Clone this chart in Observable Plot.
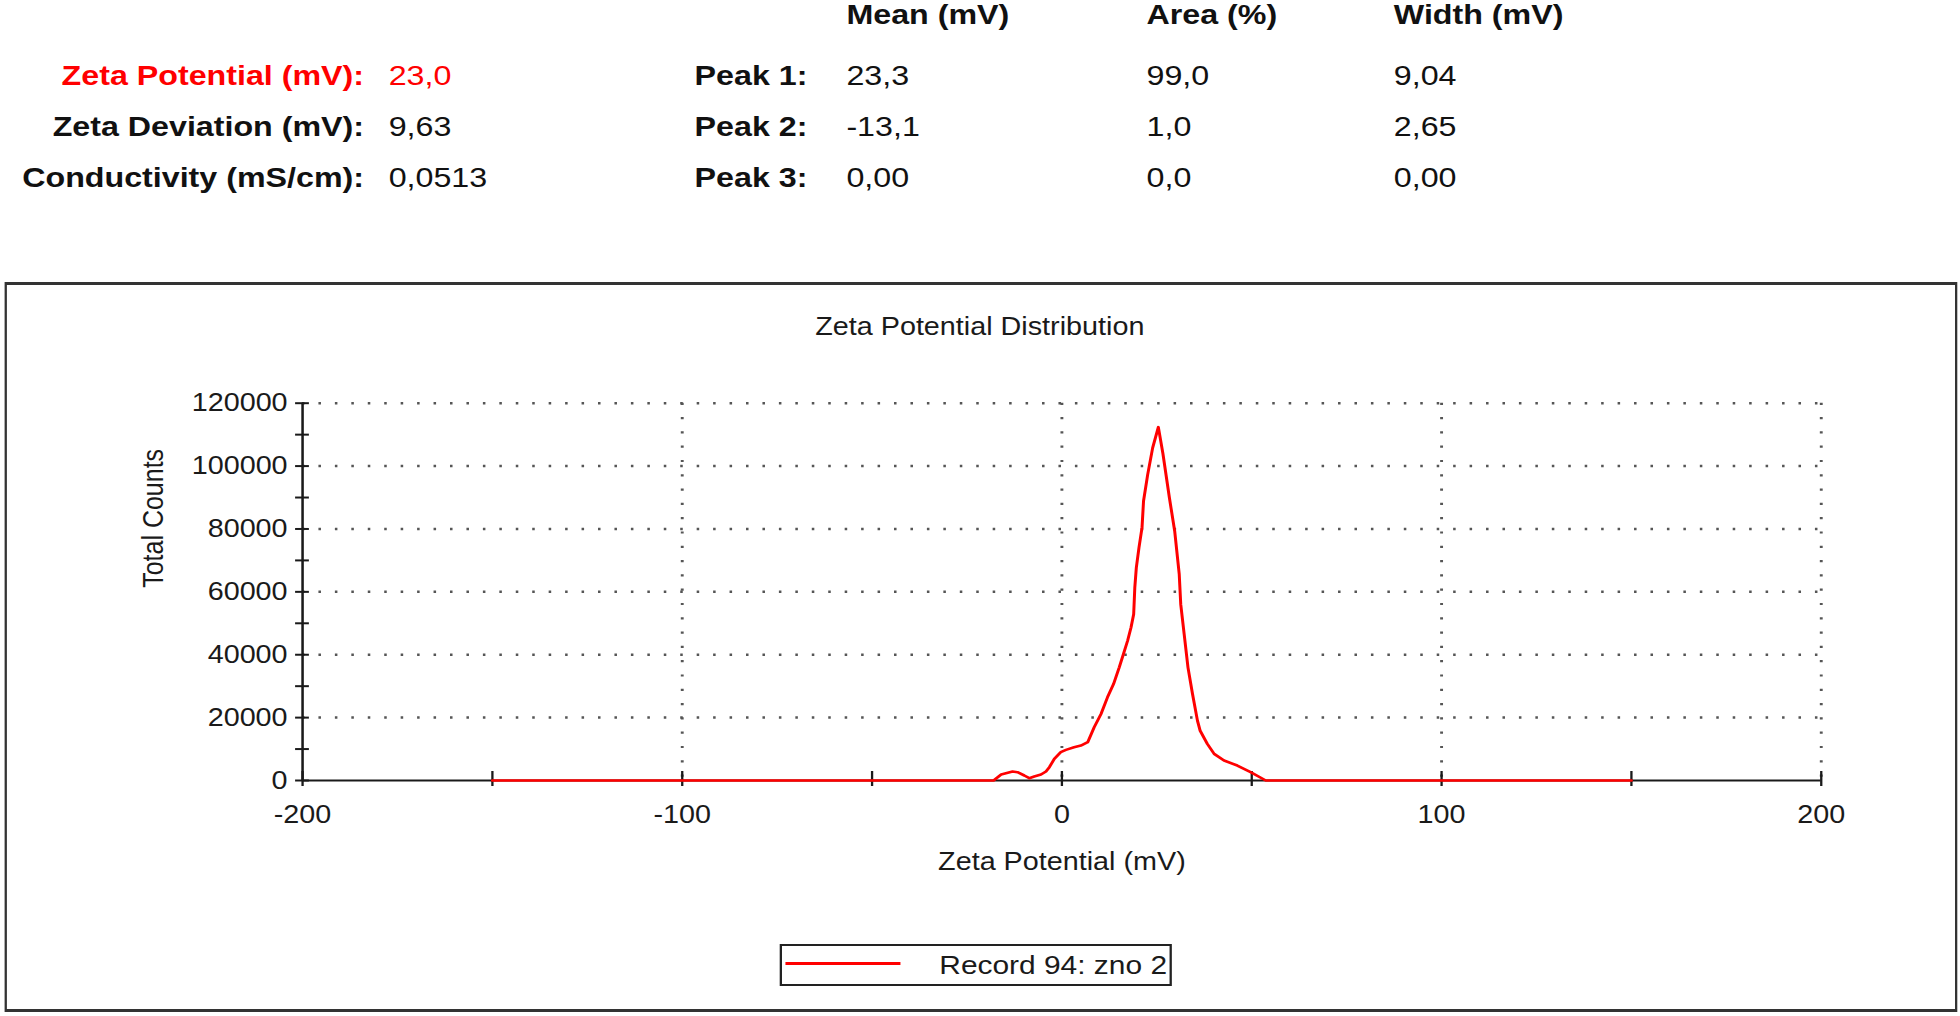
<!DOCTYPE html>
<html><head><meta charset="utf-8">
<script src="https://cdn.jsdelivr.net/npm/d3@7"></script>
<script src="https://cdn.jsdelivr.net/npm/@observablehq/plot@0.6"></script>
<style>
html,body{margin:0;padding:0;background:#fff;width:1960px;height:1016px;overflow:hidden;}
#page{position:absolute;left:0;top:0;width:1704.35px;height:1016px;transform:scaleX(1.15);transform-origin:0 0;font-family:"Liberation Sans",Arial,sans-serif;color:#111;}
.t{position:absolute;height:34px;line-height:34px;font-size:28px;white-space:nowrap;}
.b{font-weight:bold;}
.r{transform:translateX(-100%);}
.red{color:#f00;}
#frame{position:absolute;left:3.5px;top:282px;width:1694px;height:724px;border-style:solid;border-color:#333;border-width:3px 2px 3px 2px;}
#title{position:absolute;left:852px;top:309px;height:34px;line-height:34px;font-size:25px;transform:translateX(-50%);white-space:nowrap;color:#1a1a1a;}
#chart{position:absolute;left:0;top:284px;}
#legend{position:absolute;left:678.3px;top:944px;width:336.8px;height:38px;border:2px solid #222;}
#legend .sw{position:absolute;left:2.3px;top:16px;width:100px;height:2.5px;background:#f00;}
#legend .lt{position:absolute;right:2.3px;top:2px;height:34px;line-height:34px;font-size:26px;white-space:nowrap;color:#1a1a1a;}
</style>
</head>
<body>
<div id="page">
  <div id="table"></div>
  <div id="frame"></div>
  <div id="title"></div>
  <div id="chart"></div>
  <div id="legend"><div class="sw"></div><div class="lt"></div></div>
</div>
<script>
// ---- summary table ----
const summaryLabels = ["Zeta Potential (mV):", "Zeta Deviation (mV):", "Conductivity (mS/cm):"];
const summaryValues = ["23,0", "9,63", "0,0513"];
const peakHeaders = ["Mean (mV)", "Area (%)", "Width (mV)"];
const peakLabels = ["Peak 1:", "Peak 2:", "Peak 3:"];
const peakMeans = ["23,3", "-13,1", "0,00"];
const peakAreas = ["99,0", "1,0", "0,0"];
const peakWidths = ["9,04", "2,65", "0,00"];

// ---- chart data ----
const chartTitle = "Zeta Potential Distribution";
const xLabel = "Zeta Potential (mV)";
const yLabel = "Total Counts";
const legendLabel = "Record 94: zno 2";
const xTickLabels = [-200, -100, 0, 100, 200];
const xTickMarks = [-200, -150, -100, -50, 0, 50, 100, 150, 200];
const yTickLabels = [0, 20000, 40000, 60000, 80000, 100000, 120000];
const yTickMarks = [0, 10000, 20000, 30000, 40000, 50000, 60000, 70000, 80000, 90000, 100000, 110000, 120000];
const xGrid = [-100, 0, 100, 200];
const yGrid = [20000, 40000, 60000, 80000, 100000, 120000];

const zeta = [-150, -18, -16.0, -13.0, -11.7, -9.9, -8.6, -7.3, -5.5, -4.2, -3.3, -2.0, -0.3, 1.05, 3.2, 5.0, 6.8, 8.5, 10.3, 12.0, 13.6, 15.1, 16.2, 17.3, 18.2, 18.9, 19.2, 19.6, 20.3, 21.1, 21.5, 22.6, 23.9, 25.4, 26.6, 28.3, 29.7, 30.9, 31.3, 32.2, 33.2, 34.4, 35.7, 36.4, 38.3, 40.1, 42.7, 46.2, 49.7, 53.7, 150];
const counts = [0, 0, 1900, 2860, 2650, 1590, 740, 1270, 1900, 2860, 4230, 6880, 9000, 9730, 10580, 11110, 12170, 16930, 21160, 26450, 30690, 35980, 40210, 44440, 48670, 52900, 61370, 67720, 74070, 80420, 88890, 97350, 105800, 112380, 104000, 90000, 79370, 65610, 56000, 46560, 35980, 27510, 19050, 15870, 11640, 8470, 6350, 4760, 2650, 0, 0];

// ---- build table ----
const table = document.getElementById("table");
function addText(txt, left, cy, cls) {
  const d = document.createElement("div");
  d.className = "t " + cls;
  d.style.left = left + "px";
  d.style.top = (cy - 17) + "px";
  d.textContent = txt;
  table.appendChild(d);
}
const rowY = [76, 127, 178];
const headerY = 15;
const colMean = 736, colArea = 997, colWidth = 1212, colPeak = 604;
summaryLabels.forEach((s, i) => addText(s, 316.5, rowY[i], "b r" + (i === 0 ? " red" : "")));
summaryValues.forEach((s, i) => addText(s, 338, rowY[i], i === 0 ? "red" : ""));
[colMean, colArea, colWidth].forEach((c, i) => addText(peakHeaders[i], c, headerY, "b"));
peakLabels.forEach((s, i) => addText(s, colPeak, rowY[i], "b"));
peakMeans.forEach((s, i) => addText(s, colMean, rowY[i], ""));
peakAreas.forEach((s, i) => addText(s, colArea, rowY[i], ""));
peakWidths.forEach((s, i) => addText(s, colWidth, rowY[i], ""));

document.getElementById("title").textContent = chartTitle;
document.querySelector("#legend .lt").textContent = legendLabel;

// ---- chart ----
const rows = zeta.map((x, i) => ({zeta: x, counts: counts[i]}));
const gridStyle = {stroke: "#555", strokeOpacity: 1, strokeWidth: 2.5, strokeDasharray: "2.2,12.1"};
const axisColor = "#1a1a1a";

const chart = Plot.plot({
  width: 1704,
  height: 728,
  marginLeft: 262.6,
  marginRight: 120.8,
  marginTop: 118.7,
  marginBottom: 232,
  x: {domain: [-200, 200], label: null},
  y: {domain: [0, 120000], label: null},
  style: {fontFamily: '"Liberation Sans", Arial, sans-serif', fontSize: "25px", color: axisColor, background: "transparent", overflow: "visible"},
  marks: [
    Plot.gridY(yGrid, gridStyle),
    Plot.gridX(xGrid, gridStyle),
    Plot.ruleY([0], {stroke: axisColor, strokeWidth: 2.2}),
    Plot.ruleX([-200], {stroke: axisColor, strokeWidth: 2.2}),
    Plot.axisY(yTickMarks, {anchor: "left", tickSize: 6, fill: "none", strokeWidth: 2, label: null}),
    Plot.axisY(yTickMarks, {anchor: "left", tickSize: 6, dx: 6, fill: "none", strokeWidth: 2, label: null}),
    Plot.axisY(yTickLabels, {anchor: "left", tickSize: 0, tickPadding: 13, tickFormat: d => String(d), label: null}),
    Plot.axisX(xTickMarks, {anchor: "bottom", tickSize: 6, fill: "none", strokeWidth: 2, label: null}),
    Plot.axisX(xTickMarks, {anchor: "bottom", tickSize: 9, dy: -9, fill: "none", strokeWidth: 2, label: null}),
    Plot.axisX(xTickLabels, {anchor: "bottom", tickSize: 0, tickPadding: 25, tickFormat: d => String(d), label: null}),
    Plot.text([xLabel], {frameAnchor: "bottom", dy: 81, lineAnchor: "middle", fill: axisColor}),
    Plot.text([yLabel], {frameAnchor: "left", dx: -129.6, dy: -4, rotate: -90, lineAnchor: "middle", fill: axisColor}),
    Plot.line(rows, {x: "zeta", y: "counts", stroke: "#f00", strokeWidth: 2.6})
  ]
});
document.getElementById("chart").appendChild(chart);
</script>
</body></html>
